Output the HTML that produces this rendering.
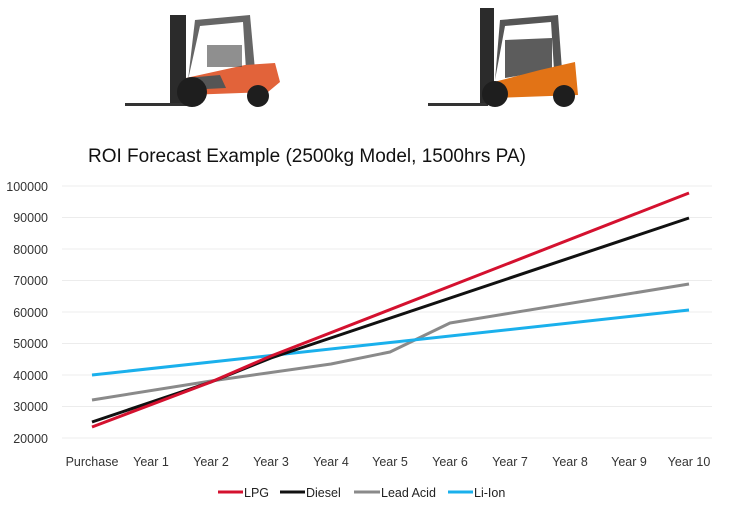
<!DOCTYPE html>
<html><head><style>html,body{margin:0;padding:0;background:#fff;}svg{display:block;font-family:"Liberation Sans",sans-serif;}</style></head>
<body>
<svg width="736" height="510" viewBox="0 0 736 510">
<g>
<rect x="170" y="15" width="16" height="90" fill="#2b2b2b"/>
<rect x="125" y="103" width="70" height="3" fill="#333"/>
<path d="M195 20 L250 15 L255 70 L246 70 L243 22 L200 26 L188 80 Z" fill="#666"/>
<path d="M186 78 L245 65 L275 63 L280 82 L268 92 L186 95 Z" fill="#e2633a"/>
<path d="M186 78 L220 75 L226 88 L186 90 Z" fill="#555"/>
<rect x="207" y="45" width="35" height="22" fill="#444" opacity="0.6"/>
<circle cx="192" cy="92" r="15" fill="#1e1e1e"/>
<circle cx="258" cy="96" r="11" fill="#1e1e1e"/>
</g>
<g>
<rect x="480" y="8" width="14" height="97" fill="#2b2b2b"/>
<rect x="428" y="103" width="60" height="3" fill="#333"/>
<path d="M500 20 L558 15 L562 70 L554 70 L551 22 L505 26 L495 80 Z" fill="#555"/>
<path d="M505 40 L552 38 L552 70 L505 78 Z" fill="#333" opacity="0.8"/>
<path d="M494 82 L540 70 L575 62 L578 95 L494 98 Z" fill="#e27316"/>
<circle cx="495" cy="94" r="13" fill="#1e1e1e"/>
<circle cx="564" cy="96" r="11" fill="#1e1e1e"/>
</g>
<text x="88" y="162" font-size="19" fill="#111">ROI Forecast Example (2500kg Model, 1500hrs PA)</text>
<g stroke="#ececec" stroke-width="1">
<line x1="62" x2="712" y1="186" y2="186"/><line x1="62" x2="712" y1="217.5" y2="217.5"/>
<line x1="62" x2="712" y1="249" y2="249"/><line x1="62" x2="712" y1="280.5" y2="280.5"/>
<line x1="62" x2="712" y1="312" y2="312"/><line x1="62" x2="712" y1="343.5" y2="343.5"/>
<line x1="62" x2="712" y1="375" y2="375"/><line x1="62" x2="712" y1="406.5" y2="406.5"/>
<line x1="62" x2="712" y1="438" y2="438"/>
</g>
<g font-size="12.5" fill="#333" text-anchor="end">
<text x="48" y="191">100000</text><text x="48" y="222">90000</text><text x="48" y="254">80000</text>
<text x="48" y="285">70000</text><text x="48" y="317">60000</text><text x="48" y="348">50000</text>
<text x="48" y="380">40000</text><text x="48" y="411">30000</text><text x="48" y="443">20000</text>
</g>
<g font-size="12.5" fill="#333" text-anchor="middle">
<text x="92" y="466">Purchase</text><text x="151" y="466">Year 1</text><text x="211" y="466">Year 2</text>
<text x="271" y="466">Year 3</text><text x="331" y="466">Year 4</text><text x="390" y="466">Year 5</text>
<text x="450" y="466">Year 6</text><text x="510" y="466">Year 7</text><text x="570" y="466">Year 8</text>
<text x="629" y="466">Year 9</text><text x="689" y="466">Year 10</text>
</g>
<g fill="none" stroke-width="3" stroke-linejoin="round">
<polyline stroke="#8a8a8a" points="92,400 211,381 331,364 390,352 450,323 689,284"/>
<polyline stroke="#1ab0ec" points="92,375 689,310"/>
<polyline stroke="#111" points="92,422 211,382 271,358 689,218"/>
<polyline stroke="#d4112f" points="92,427 211,382 271,356 689,193"/>
</g>
<g font-size="12.5" fill="#222">
<line x1="218" x2="243" y1="492" y2="492" stroke="#d4112f" stroke-width="3"/><text x="244" y="497">LPG</text>
<line x1="280" x2="305" y1="492" y2="492" stroke="#111" stroke-width="3"/><text x="306" y="497">Diesel</text>
<line x1="354" x2="380" y1="492" y2="492" stroke="#8a8a8a" stroke-width="3"/><text x="381" y="497">Lead Acid</text>
<line x1="448" x2="473" y1="492" y2="492" stroke="#1ab0ec" stroke-width="3"/><text x="474" y="497">Li-Ion</text>
</g>
</svg>
</body></html>
